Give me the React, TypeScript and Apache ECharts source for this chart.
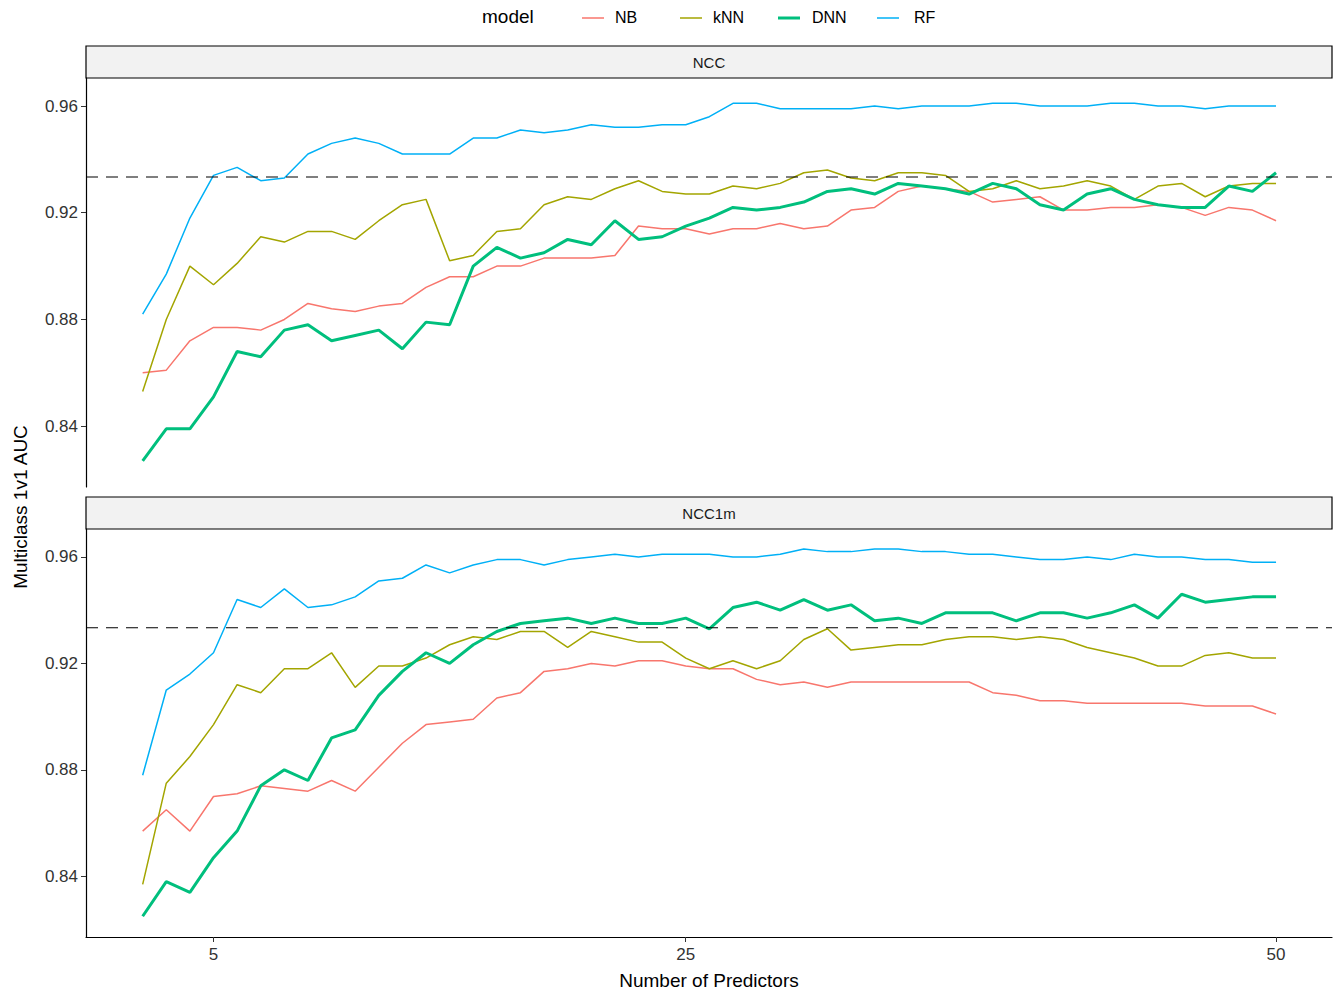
import { useEffect, useRef } from "react";
import * as echarts from "echarts";

const predictors = Array.from({ length: 49 }, (_, i) => i + 2);

const nccNB = [0.860,0.861,0.872,0.877,0.877,0.876,0.880,0.886,0.884,0.883,0.885,0.886,0.892,0.896,0.896,0.900,0.900,0.903,0.903,0.903,0.904,0.915,0.914,0.914,0.912,0.914,0.914,0.916,0.914,0.915,0.921,0.922,0.928,0.930,0.929,0.928,0.924,0.925,0.926,0.921,0.921,0.922,0.922,0.923,0.922,0.919,0.922,0.921,0.917];
const nccKNN = [0.853,0.880,0.900,0.893,0.901,0.911,0.909,0.913,0.913,0.910,0.917,0.923,0.925,0.902,0.904,0.913,0.914,0.923,0.926,0.925,0.929,0.932,0.928,0.927,0.927,0.930,0.929,0.931,0.935,0.936,0.933,0.932,0.935,0.935,0.934,0.928,0.929,0.932,0.929,0.930,0.932,0.930,0.925,0.930,0.931,0.926,0.930,0.931,0.931];
const nccDNN = [0.827,0.839,0.839,0.851,0.868,0.866,0.876,0.878,0.872,0.874,0.876,0.869,0.879,0.878,0.900,0.907,0.903,0.905,0.910,0.908,0.917,0.910,0.911,0.915,0.918,0.922,0.921,0.922,0.924,0.928,0.929,0.927,0.931,0.930,0.929,0.927,0.931,0.929,0.923,0.921,0.927,0.929,0.925,0.923,0.922,0.922,0.930,0.928,0.935];
const nccRF = [0.882,0.897,0.918,0.934,0.937,0.932,0.933,0.942,0.946,0.948,0.946,0.942,0.942,0.942,0.948,0.948,0.951,0.950,0.951,0.953,0.952,0.952,0.953,0.953,0.956,0.961,0.961,0.959,0.959,0.959,0.959,0.960,0.959,0.960,0.960,0.960,0.961,0.961,0.960,0.960,0.960,0.961,0.961,0.960,0.960,0.959,0.960,0.960,0.960];

const ncc1mNB = [0.857,0.865,0.857,0.870,0.871,0.874,0.873,0.872,0.876,0.872,0.881,0.890,0.897,0.898,0.899,0.907,0.909,0.917,0.918,0.920,0.919,0.921,0.921,0.919,0.918,0.918,0.914,0.912,0.913,0.911,0.913,0.913,0.913,0.913,0.913,0.913,0.909,0.908,0.906,0.906,0.905,0.905,0.905,0.905,0.905,0.904,0.904,0.904,0.901];
const ncc1mKNN = [0.837,0.875,0.885,0.897,0.912,0.909,0.918,0.918,0.924,0.911,0.919,0.919,0.922,0.927,0.930,0.929,0.932,0.932,0.926,0.932,0.930,0.928,0.928,0.922,0.918,0.921,0.918,0.921,0.929,0.933,0.925,0.926,0.927,0.927,0.929,0.930,0.930,0.929,0.930,0.929,0.926,0.924,0.922,0.919,0.919,0.923,0.924,0.922,0.922];
const ncc1mDNN = [0.825,0.838,0.834,0.847,0.857,0.874,0.880,0.876,0.892,0.895,0.908,0.917,0.924,0.920,0.927,0.932,0.935,0.936,0.937,0.935,0.937,0.935,0.935,0.937,0.933,0.941,0.943,0.940,0.944,0.940,0.942,0.936,0.937,0.935,0.939,0.939,0.939,0.936,0.939,0.939,0.937,0.939,0.942,0.937,0.946,0.943,0.944,0.945,0.945];
const ncc1mRF = [0.878,0.910,0.916,0.924,0.944,0.941,0.948,0.941,0.942,0.945,0.951,0.952,0.957,0.954,0.957,0.959,0.959,0.957,0.959,0.960,0.961,0.960,0.961,0.961,0.961,0.960,0.960,0.961,0.963,0.962,0.962,0.963,0.963,0.962,0.962,0.961,0.961,0.960,0.959,0.959,0.960,0.959,0.961,0.960,0.960,0.959,0.959,0.958,0.958];

const models = ["NB", "kNN", "DNN", "RF"];
const colors = ["#F8766D", "#A3A500", "#00BF7D", "#00B0F6"];
const yTicks = [0.84, 0.88, 0.92, 0.96];
const xTicks = [5, 25, 50];
const refLine = 0.9334;
const X_MIN = -0.4;
const X_MAX = 52.37;
const FONT = "Liberation Sans, Arial, sans-serif";

const pair = (arr: number[]) => arr.map((v, i) => [predictors[i], v]);

export default function App() {
  const ref = useRef<HTMLDivElement | null>(null);
  useEffect(() => {
    if (!ref.current) return;
    const chart = echarts.init(ref.current, undefined, { renderer: "svg" });
    const panels = [
      [nccNB, nccKNN, nccDNN, nccRF],
      [ncc1mNB, ncc1mKNN, ncc1mDNN, ncc1mRF],
    ];
    const grids = [
      { left: 86, top: 78, width: 1246, height: 409 },
      { left: 86, top: 529, width: 1246, height: 408 },
    ];
    const xAxis = grids.map((_, gi) => ({
      type: "value",
      gridIndex: gi,
      min: X_MIN,
      max: X_MAX,
      splitLine: { show: false },
      axisLine: { show: gi === 1, lineStyle: { color: "#000", width: 1.2 } },
      axisTick: { show: gi === 1, customValues: xTicks, length: 5, lineStyle: { color: "#333" } },
      axisLabel: { show: gi === 1, customValues: xTicks, color: "#333", fontSize: 17, fontFamily: FONT, margin: 9 },
    }));
    const yAxis = grids.map((_, gi) => ({
      type: "value",
      gridIndex: gi,
      min: 0.8172,
      max: 0.9705,
      splitLine: { show: false },
      axisLine: { show: true, onZero: false, lineStyle: { color: "#000", width: 1.2 } },
      axisTick: { show: true, customValues: yTicks, length: 5, lineStyle: { color: "#333" } },
      axisLabel: { customValues: yTicks, color: "#333", fontSize: 17, fontFamily: FONT, margin: 8, formatter: (v: number) => v.toFixed(2) },
    }));
    const series: any[] = [];
    panels.forEach((p, gi) => {
      p.forEach((arr, mi) => {
        series.push({
          name: models[mi],
          type: "line",
          xAxisIndex: gi,
          yAxisIndex: gi,
          data: pair(arr),
          showSymbol: false,
          lineStyle: { color: colors[mi], width: mi === 2 ? 3 : 1.5 },
          z: mi === 2 ? 3 : 2,
        });
      });
      series.push({
        name: "ref",
        type: "line",
        xAxisIndex: gi,
        yAxisIndex: gi,
        data: [[X_MIN, refLine], [X_MAX, refLine]],
        showSymbol: false,
        silent: true,
        lineStyle: { color: "#000", type: [12, 8], width: 1.2 },
        z: 4,
      });
    });
    const legendX = [582, 680, 778, 877];
    const legendText = [615, 713, 812, 914];
    const graphic: any[] = [
      { type: "text", left: 482, top: 7, style: { text: "model", fontSize: 19, fontFamily: FONT, fill: "#000" } },
      ...models.flatMap((m, i) => [
        { type: "line", shape: { x1: legendX[i], y1: 18, x2: legendX[i] + 22, y2: 18 }, style: { stroke: colors[i], lineWidth: i === 2 ? 3 : 1.5 } },
        { type: "text", left: legendText[i], top: 9, style: { text: m, fontSize: 16, fontFamily: FONT, fill: "#000" } },
      ]),
      ...[["NCC", 46], ["NCC1m", 497]].flatMap(([t, y]: any) => [
        { type: "rect", shape: { x: 86, y, width: 1246, height: 32 }, style: { fill: "#f2f2f2", stroke: "#000", lineWidth: 1.2 } },
        { type: "text", x: 709, y: y + 16, style: { text: t, fontSize: 15, fontFamily: FONT, fill: "#1a1a1a", align: "center", verticalAlign: "middle" } },
      ]),
      { type: "text", x: 20, y: 507, rotation: Math.PI / 2, style: { text: "Multiclass 1v1 AUC", fontSize: 19, fontFamily: FONT, fill: "#000", align: "center", verticalAlign: "middle" } },
      { type: "text", x: 709, y: 980, style: { text: "Number of Predictors", fontSize: 19, fontFamily: FONT, fill: "#000", align: "center", verticalAlign: "middle" } },
    ];
    chart.setOption({ animation: false, backgroundColor: "#fff", grid: grids, xAxis, yAxis, series, graphic });
    return () => chart.dispose();
  }, []);
  return <div ref={ref} style={{ width: 1336, height: 992, position: "absolute", left: 0, top: 0 }} />;
}
